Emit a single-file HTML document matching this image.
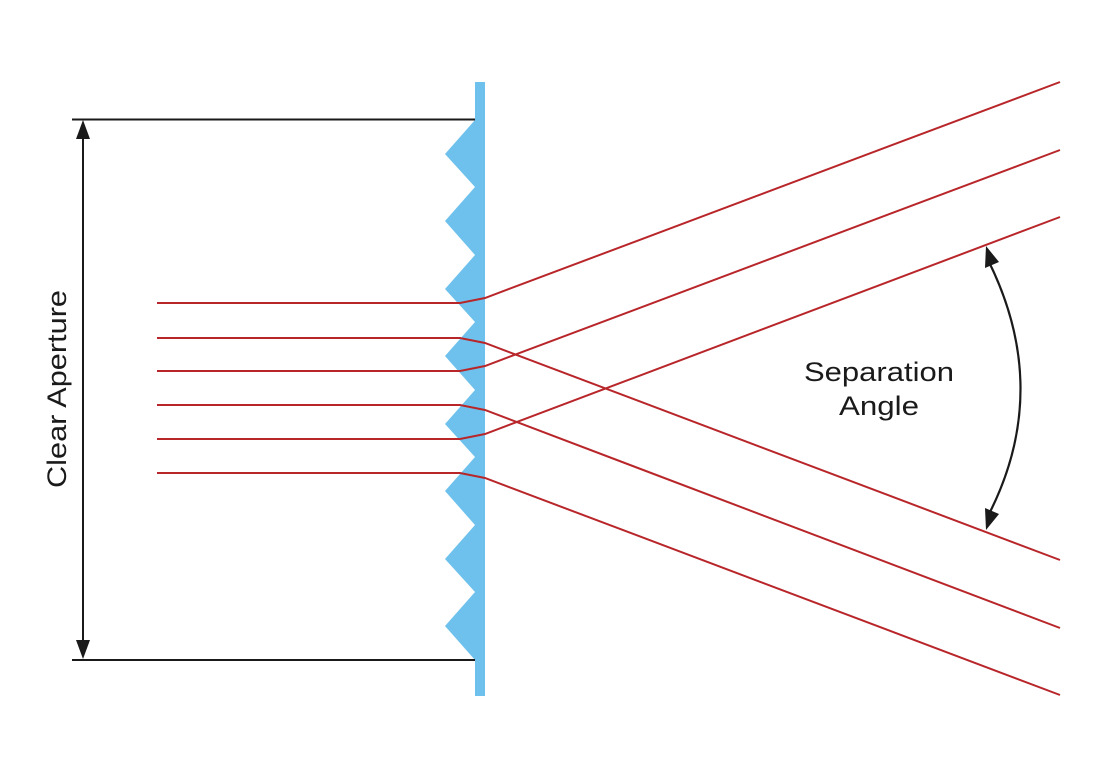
<!DOCTYPE html>
<html><head><meta charset="utf-8"><style>
html,body{margin:0;padding:0;background:#fff;width:1100px;height:778px;overflow:hidden}
text{font-family:"Liberation Sans",Arial,sans-serif;fill:#1a1a1a}
</style></head><body>
<svg width="1100" height="778" viewBox="0 0 1100 778" xmlns="http://www.w3.org/2000/svg">
<polygon fill="#6ec1ec" points="485,82 485,696 475,696 475,660 445,626 475,592 445,559 475,525 445,491 475,457 445,424 475,390 445,356 475,322 445,289 475,255 445,221 475,187 445,154 475,120 475,82"/>
<g stroke="#1a1a1a" stroke-width="2" fill="none">
<line x1="72" y1="119.5" x2="475" y2="119.5"/>
<line x1="72" y1="660" x2="475" y2="660"/>
<line x1="83" y1="135" x2="83" y2="645"/>
</g>
<polygon fill="#1a1a1a" points="83,120 76,139 90,139"/>
<polygon fill="#1a1a1a" points="83,659 76,640 90,640"/>
<text x="0" y="0" transform="translate(66,389) rotate(-90)" text-anchor="middle" font-size="27" textLength="198" lengthAdjust="spacingAndGlyphs">Clear Aperture</text>
<g stroke="#b8262a" stroke-width="2" fill="none">
<path d="M157,303 L460,303 L485,298 L1060,82"/>
<path d="M157,338 L460,338 L485,343 L1060,560"/>
<path d="M157,371 L460,371 L485,366 L1060,150"/>
<path d="M157,405 L460,405 L485,410 L1060,628"/>
<path d="M157,439 L460,439 L485,434 L1060,217"/>
<path d="M157,473 L460,473 L485,478 L1060,695"/>
</g>
<path d="M989,262 Q1052,390 989,514" stroke="#1a1a1a" stroke-width="2.2" fill="none"/>
<polygon fill="#1a1a1a" points="986,246 985,268 999,262"/>
<polygon fill="#1a1a1a" points="986,530 985,508 999,514"/>
<text x="879" y="381" text-anchor="middle" font-size="27" textLength="150" lengthAdjust="spacingAndGlyphs">Separation</text>
<text x="879" y="415" text-anchor="middle" font-size="27" textLength="80" lengthAdjust="spacingAndGlyphs">Angle</text>
</svg>
</body></html>
